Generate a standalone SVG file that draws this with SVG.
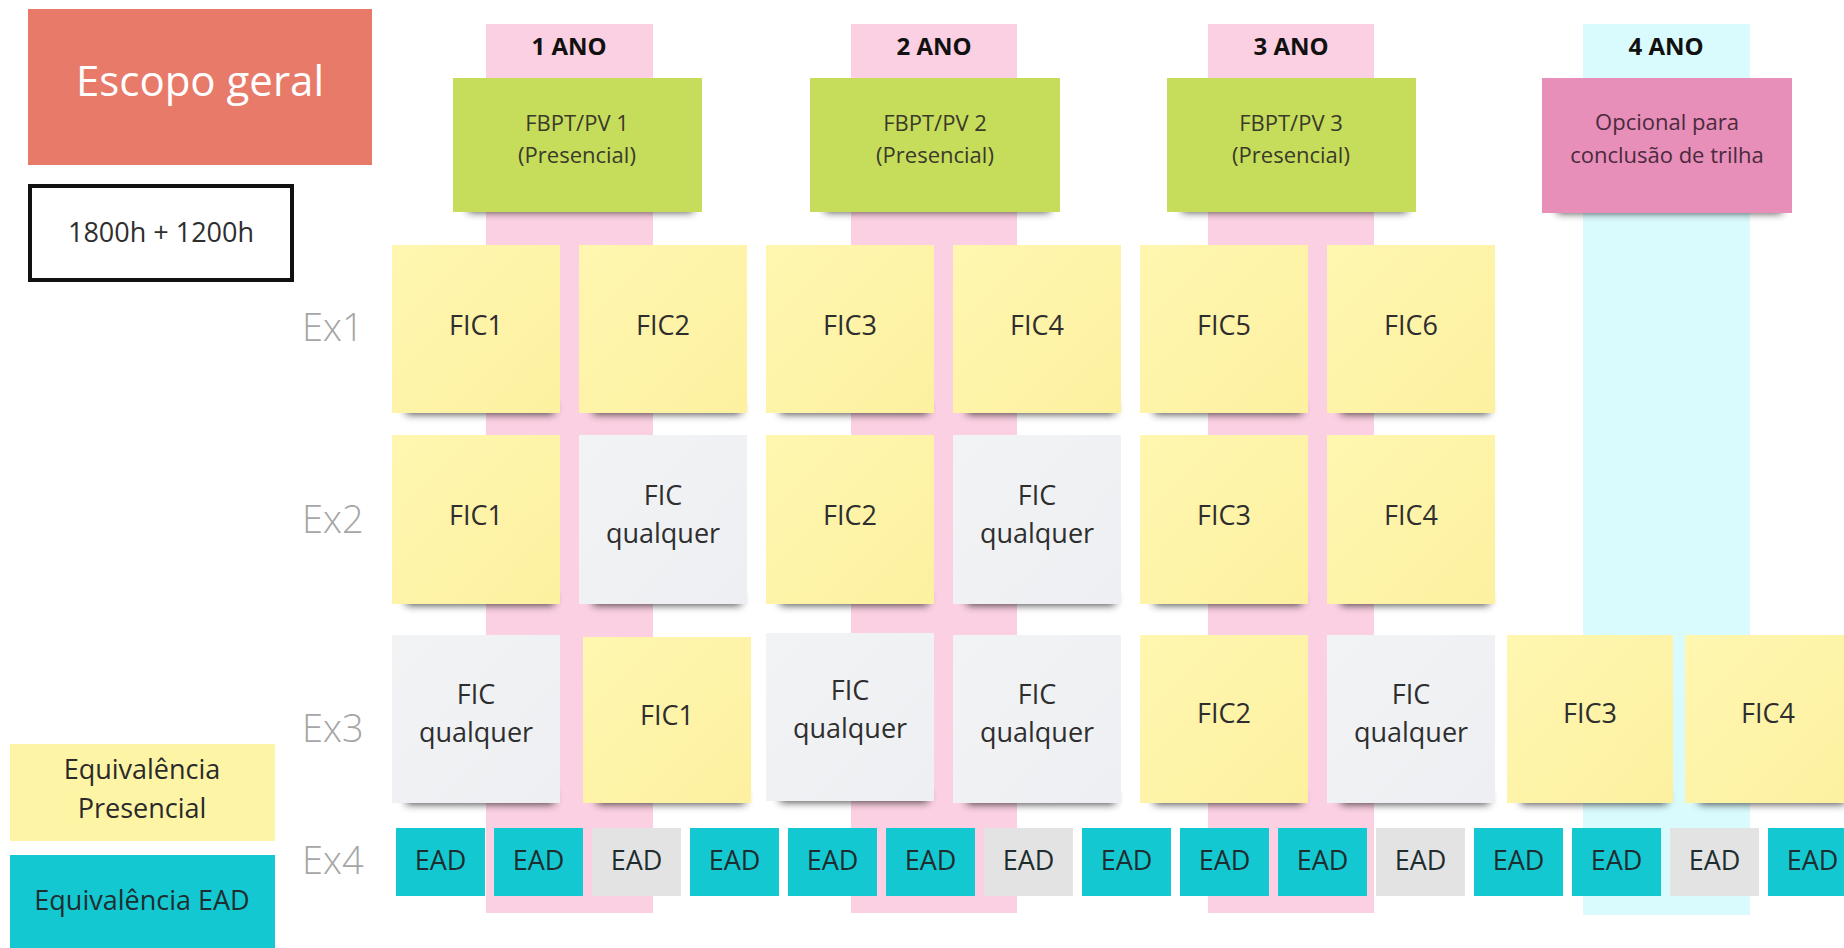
<svg xmlns="http://www.w3.org/2000/svg" width="1844" height="948" viewBox="0 0 1844 948">
<style>
text{font-family:"Open Sans","Noto Sans","DejaVu Sans",sans-serif;fill:#2e2e2e;text-anchor:middle}
.fic{font-size:27px}
.ex{font-size:38px;fill:#a6a6a6;font-weight:300;text-anchor:start}
.yr{font-size:24px;font-weight:700;fill:#111}
.gt{font-size:22px;fill:#3a3a2a}
.pt{font-size:22px;fill:#4a2a3c}
.ead{font-size:27px;fill:#1e2e30}
.lg{font-size:27px;fill:#2a2a2a}
.y{fill:url(#gy)}
.g{fill:url(#gg)}
.ec{fill:#14c8d2}
.eg{fill:#e3e3e3}
.sh{fill:#000;opacity:.75;filter:url(#blur)}
</style>
<defs>
<linearGradient id="gy" x1="0" y1="0" x2="1" y2="1"><stop offset="0" stop-color="#fff6b0"/><stop offset="1" stop-color="#fdf1a0"/></linearGradient>
<linearGradient id="gg" x1="0" y1="0" x2="1" y2="1"><stop offset="0" stop-color="#f2f3f5"/><stop offset="1" stop-color="#eeeff2"/></linearGradient>
<filter id="blur" x="-20%" y="-100%" width="140%" height="300%"><feGaussianBlur stdDeviation="4"/></filter>
</defs>
<rect width="1844" height="948" fill="#ffffff"/>

<g id="columns">
<rect x="486" y="24" width="167" height="889" fill="#fbd0e2"/>
<rect x="851" y="24" width="166" height="889" fill="#fbd0e2"/>
<rect x="1208" y="24" width="166" height="889" fill="#fbd0e2"/>
<rect x="1583" y="24" width="167" height="891" fill="#dafbfd"/>
</g>

<g id="escopo"><rect x="28" y="9" width="344" height="156" fill="#e87a69"/><text x="200" y="96" style="font-size:42px;fill:#fff">Escopo geral</text></g>
<g id="horas"><rect x="30" y="186" width="262" height="94" fill="#fff" stroke="#111" stroke-width="4"/><text x="161" y="242" style="font-size:27px">1800h + 1200h</text></g>

<g id="ano1"><text class="yr" x="569" y="55">1 ANO</text></g>
<g id="ano2"><text class="yr" x="934" y="55">2 ANO</text></g>
<g id="ano3"><text class="yr" x="1291" y="55">3 ANO</text></g>
<g id="ano4"><text class="yr" x="1666" y="55">4 ANO</text></g>

<g id="fbpt1"><rect class="sh" x="468" y="200" width="225" height="12"/><rect x="453" y="78" width="249" height="134" fill="#c6dc5b"/><text class="gt" x="577" y="131">FBPT/PV 1</text><text class="gt" x="577" y="163">(Presencial)</text></g>
<g id="fbpt2"><rect class="sh" x="825" y="200" width="225" height="12"/><rect x="810" y="78" width="250" height="134" fill="#c6dc5b"/><text class="gt" x="935" y="131">FBPT/PV 2</text><text class="gt" x="935" y="163">(Presencial)</text></g>
<g id="fbpt3"><rect class="sh" x="1182" y="200" width="225" height="12"/><rect x="1167" y="78" width="249" height="134" fill="#c6dc5b"/><text class="gt" x="1291" y="131">FBPT/PV 3</text><text class="gt" x="1291" y="163">(Presencial)</text></g>
<g id="opcional"><rect class="sh" x="1557" y="201" width="225" height="12"/><rect x="1542" y="78" width="250" height="135" fill="#e78eb9"/><text class="pt" x="1667" y="130">Opcional para</text><text class="pt" x="1667" y="163">conclusão de trilha</text></g>

<g id="ex-labels">
<text class="ex" x="302" y="341">Ex1</text>
<text class="ex" x="302" y="533">Ex2</text>
<text class="ex" x="302" y="742">Ex3</text>
<text class="ex" x="302" y="874">Ex4</text>
</g>

<g id="r1c1"><rect class="sh" x="406" y="402" width="148" height="12"/><rect class="y" x="392" y="245" width="168" height="168"/><text class="fic" x="476" y="335">FIC1</text></g>
<g id="r1c2"><rect class="sh" x="593" y="402" width="148" height="12"/><rect class="y" x="579" y="245" width="168" height="168"/><text class="fic" x="663" y="335">FIC2</text></g>
<g id="r1c3"><rect class="sh" x="780" y="402" width="148" height="12"/><rect class="y" x="766" y="245" width="168" height="168"/><text class="fic" x="850" y="335">FIC3</text></g>
<g id="r1c4"><rect class="sh" x="967" y="402" width="148" height="12"/><rect class="y" x="953" y="245" width="168" height="168"/><text class="fic" x="1037" y="335">FIC4</text></g>
<g id="r1c5"><rect class="sh" x="1154" y="402" width="148" height="12"/><rect class="y" x="1140" y="245" width="168" height="168"/><text class="fic" x="1224" y="335">FIC5</text></g>
<g id="r1c6"><rect class="sh" x="1341" y="402" width="148" height="12"/><rect class="y" x="1327" y="245" width="168" height="168"/><text class="fic" x="1411" y="335">FIC6</text></g>

<g id="r2c1"><rect class="sh" x="406" y="593" width="148" height="12"/><rect class="y" x="392" y="435" width="168" height="169"/><text class="fic" x="476" y="525">FIC1</text></g>
<g id="r2c2"><rect class="sh" x="593" y="593" width="148" height="12"/><rect class="g" x="579" y="435" width="168" height="169"/><text class="fic" x="663" y="505">FIC</text><text class="fic" x="663" y="543">qualquer</text></g>
<g id="r2c3"><rect class="sh" x="780" y="593" width="148" height="12"/><rect class="y" x="766" y="435" width="168" height="169"/><text class="fic" x="850" y="525">FIC2</text></g>
<g id="r2c4"><rect class="sh" x="967" y="593" width="148" height="12"/><rect class="g" x="953" y="435" width="168" height="169"/><text class="fic" x="1037" y="505">FIC</text><text class="fic" x="1037" y="543">qualquer</text></g>
<g id="r2c5"><rect class="sh" x="1154" y="593" width="148" height="12"/><rect class="y" x="1140" y="435" width="168" height="169"/><text class="fic" x="1224" y="525">FIC3</text></g>
<g id="r2c6"><rect class="sh" x="1341" y="593" width="148" height="12"/><rect class="y" x="1327" y="435" width="168" height="169"/><text class="fic" x="1411" y="525">FIC4</text></g>

<g id="r3c1"><rect class="sh" x="406" y="792" width="148" height="12"/><rect class="g" x="392" y="635" width="168" height="168"/><text class="fic" x="476" y="704">FIC</text><text class="fic" x="476" y="742">qualquer</text></g>
<g id="r3c2"><rect class="sh" x="597" y="792" width="148" height="12"/><rect class="y" x="583" y="637" width="168" height="166"/><text class="fic" x="667" y="725">FIC1</text></g>
<g id="r3c3"><rect class="sh" x="780" y="790" width="148" height="12"/><rect class="g" x="766" y="633" width="168" height="168"/><text class="fic" x="850" y="700">FIC</text><text class="fic" x="850" y="738">qualquer</text></g>
<g id="r3c4"><rect class="sh" x="967" y="792" width="148" height="12"/><rect class="g" x="953" y="635" width="168" height="168"/><text class="fic" x="1037" y="704">FIC</text><text class="fic" x="1037" y="742">qualquer</text></g>
<g id="r3c5"><rect class="sh" x="1154" y="792" width="148" height="12"/><rect class="y" x="1140" y="635" width="168" height="168"/><text class="fic" x="1224" y="723">FIC2</text></g>
<g id="r3c6"><rect class="sh" x="1341" y="792" width="148" height="12"/><rect class="g" x="1327" y="635" width="168" height="168"/><text class="fic" x="1411" y="704">FIC</text><text class="fic" x="1411" y="742">qualquer</text></g>
<g id="r3c7"><rect class="sh" x="1521" y="792" width="146" height="12"/><rect class="y" x="1507" y="635" width="166" height="168"/><text class="fic" x="1590" y="723">FIC3</text></g>
<g id="r3c8"><rect class="sh" x="1699" y="792" width="146" height="12"/><rect class="y" x="1685" y="635" width="166" height="168"/><text class="fic" x="1768" y="723">FIC4</text></g>

<g id="ead-row">
<g id="ead1"><rect class="ec" x="396" y="828" width="89" height="68"/><text class="ead" x="440.5" y="870">EAD</text></g>
<g id="ead2"><rect class="ec" x="494" y="828" width="89" height="68"/><text class="ead" x="538.5" y="870">EAD</text></g>
<g id="ead3"><rect class="eg" x="592" y="828" width="89" height="68"/><text class="ead" x="636.5" y="870">EAD</text></g>
<g id="ead4"><rect class="ec" x="690" y="828" width="89" height="68"/><text class="ead" x="734.5" y="870">EAD</text></g>
<g id="ead5"><rect class="ec" x="788" y="828" width="89" height="68"/><text class="ead" x="832.5" y="870">EAD</text></g>
<g id="ead6"><rect class="ec" x="886" y="828" width="89" height="68"/><text class="ead" x="930.5" y="870">EAD</text></g>
<g id="ead7"><rect class="eg" x="984" y="828" width="89" height="68"/><text class="ead" x="1028.5" y="870">EAD</text></g>
<g id="ead8"><rect class="ec" x="1082" y="828" width="89" height="68"/><text class="ead" x="1126.5" y="870">EAD</text></g>
<g id="ead9"><rect class="ec" x="1180" y="828" width="89" height="68"/><text class="ead" x="1224.5" y="870">EAD</text></g>
<g id="ead10"><rect class="ec" x="1278" y="828" width="89" height="68"/><text class="ead" x="1322.5" y="870">EAD</text></g>
<g id="ead11"><rect class="eg" x="1376" y="828" width="89" height="68"/><text class="ead" x="1420.5" y="870">EAD</text></g>
<g id="ead12"><rect class="ec" x="1474" y="828" width="89" height="68"/><text class="ead" x="1518.5" y="870">EAD</text></g>
<g id="ead13"><rect class="ec" x="1572" y="828" width="89" height="68"/><text class="ead" x="1616.5" y="870">EAD</text></g>
<g id="ead14"><rect class="eg" x="1670" y="828" width="89" height="68"/><text class="ead" x="1714.5" y="870">EAD</text></g>
<g id="ead15"><rect class="ec" x="1768" y="828" width="89" height="68"/><text class="ead" x="1812.5" y="870">EAD</text></g>
</g>

<g id="legend-presencial"><rect x="10" y="744" width="265" height="97" fill="#fef4a6"/><text class="lg" x="142" y="779">Equivalência</text><text class="lg" x="142" y="818">Presencial</text></g>
<g id="legend-ead"><rect x="10" y="855" width="265" height="93" fill="#13c8d1"/><text class="lg" x="142" y="910" style="fill:#1e2e30">Equivalência EAD</text></g>

<g id="connectors"/>
</svg>
